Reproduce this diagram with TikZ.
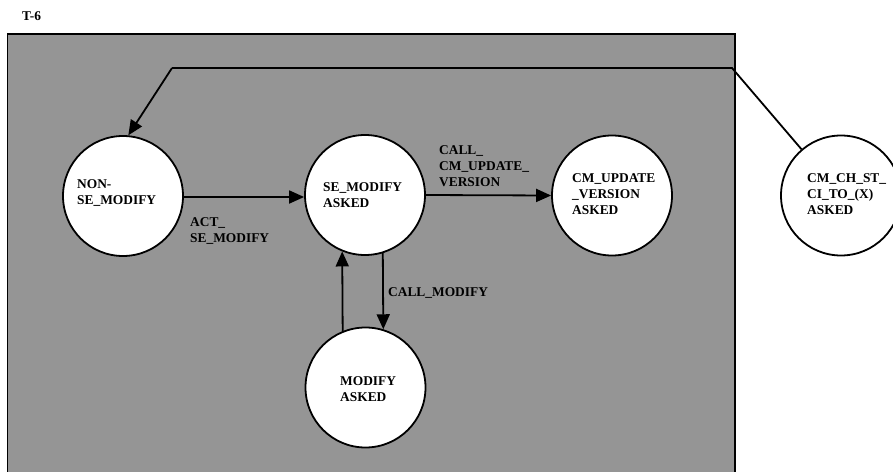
\documentclass[tikz,border=0pt]{standalone}
\usepackage{fontspec}
\setmainfont{Liberation Serif}
\usetikzlibrary{arrows.meta}
\definecolor{bgray}{RGB}{149,149,149}
\tikzset{
  state/.style={circle,draw=black,fill=white,line width=1.8pt,minimum size=120pt,inner sep=0pt},
  txt/.style={anchor=base west,inner sep=0pt,align=left,font=\fontsize{13.4}{16}\selectfont\bfseries},
  arr/.style={line width=1.8pt,-{Triangle[length=15pt,width=13pt]}},
  ln/.style={line width=1.8pt}
}
\begin{document}
\begin{tikzpicture}[x=1pt,y=-1pt]
\useasboundingbox (0,0) rectangle (893,471);
\begin{scope}
\clip (0,0) rectangle (893,471);
\draw[fill=bgray,line width=1.8pt] (7.5,34) rectangle (735,480);
\node[txt] (t6) at (22,20) {T-6};
\node[state] (nonse) at (123,196) {};
\node[state] (semod) at (365,195) {};
\node[state] (cmu) at (612,195.5) {};
\node[state] (cmch) at (841,195.5) {};
\node[state] (mod) at (365.5,387.5) {};
\node[txt] (tnon) at (77,204) {NON-\\SE\_MODIFY};
\node[txt] (tse) at (323,207) {SE\_MODIFY\\ASKED};
\node[txt] (tcmu) at (572,214) {CM\_UPDATE\\\_VERSION\\ASKED};
\node[txt] (tcmch) at (807,214) {CM\_CH\_ST\_\\CI\_TO\_(X)\\ASKED};
\node[txt] (tmod) at (340,401) {MODIFY\\ASKED};
\coordinate (c1) at (732,68);
\coordinate (c2) at (172,68);
\draw[arr] (nonse.east |- 0,197) -- (semod.west |- 0,197);
\node[txt] (lact) at (190,242) {ACT\_\\SE\_MODIFY};
\draw[arr] (semod.east) -- (cmu.west);
\node[txt] (lcall) at (439,186) {CALL\_\\CM\_UPDATE\_\\VERSION};
\draw[arr] (semod.-73.5) -- (mod.73.5);
\node[txt] (lcm) at (388,296) {CALL\_MODIFY};
\draw[arr] (mod.112.5) -- (semod.-112.5);
\draw[ln] (cmch) -- (c1) -- (c2);
\draw[arr] (c2) -- (nonse.85);
\end{scope}
\end{tikzpicture}
\end{document}
